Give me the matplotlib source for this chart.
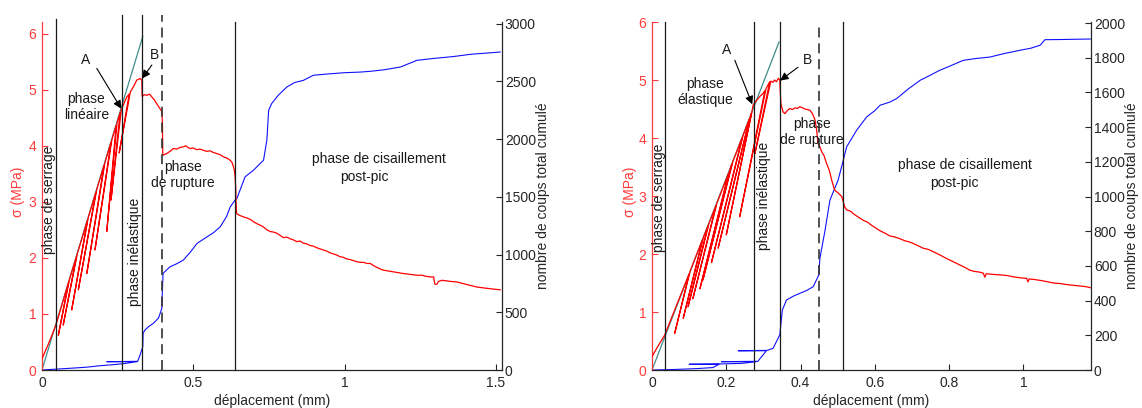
import matplotlib
matplotlib.use("Agg")
import matplotlib.pyplot as plt

plt.rcParams['font.family'] = ['Liberation Sans', 'DejaVu Sans']
plt.rcParams['font.size'] = 10

# ---------------- data: left test ----------------
left_sig_x = [0.0, 0.02, 0.046,
              0.088, 0.054, 0.091,
              0.114, 0.070, 0.117,
              0.150, 0.098, 0.153,
              0.178, 0.120, 0.181,
              0.205, 0.148, 0.208,
              0.228, 0.175, 0.231,
              0.245, 0.214, 0.248,
              0.258, 0.228, 0.262,
              0.280, 0.288, 0.255, 0.292,
              0.303, 0.313, 0.324, 0.330, 0.331, 0.338, 0.346, 0.355, 0.363, 0.371,
              0.379, 0.390, 0.396, 0.398, 0.399, 0.412, 0.423, 0.434, 0.445, 0.456,
              0.467, 0.475, 0.482, 0.489, 0.500, 0.511, 0.522, 0.533, 0.544, 0.555,
              0.566, 0.578, 0.589, 0.600, 0.611, 0.622, 0.628, 0.633, 0.636, 0.638,
              0.640, 0.641, 0.643, 0.652, 0.666, 0.678, 0.690, 0.700, 0.710, 0.722,
              0.732, 0.743, 0.754, 0.765, 0.776, 0.787, 0.798, 0.809, 0.820, 0.831,
              0.842, 0.853, 0.864, 0.875, 0.886, 0.897, 0.908, 0.919, 0.930, 0.941,
              0.952, 0.963, 0.974, 0.985, 0.996, 1.007, 1.018, 1.030, 1.041, 1.052,
              1.063, 1.074, 1.085, 1.096, 1.107, 1.118, 1.129, 1.140, 1.151, 1.162,
              1.173, 1.184, 1.195, 1.210, 1.225, 1.240, 1.255, 1.270, 1.285, 1.294,
              1.298, 1.305, 1.310, 1.322, 1.335, 1.350, 1.371, 1.385, 1.400, 1.415,
              1.437, 1.450, 1.465, 1.480, 1.497, 1.514]
left_sig_y = [0.20, 0.45, 0.80,
              1.57, 0.62, 1.62,
              2.03, 0.80, 2.08,
              2.67, 1.07, 2.72,
              3.17, 1.43, 3.22,
              3.65, 1.72, 3.70,
              4.06, 2.14, 4.11,
              4.36, 2.47, 4.41,
              4.59, 3.03, 4.64,
              4.87, 4.92, 3.87, 4.96,
              5.06, 5.17, 5.20, 5.17, 4.88, 4.91, 4.90, 4.92, 4.87, 4.82,
              4.75, 4.66, 4.61, 4.40, 3.83, 3.86, 3.90, 3.95, 3.94, 3.97,
              3.98, 4.00, 3.97, 3.95, 3.96, 3.93, 3.94, 3.92, 3.90, 3.91,
              3.88, 3.86, 3.84, 3.80, 3.78, 3.74, 3.70, 3.62, 3.55, 3.45,
              3.27, 3.03, 2.79, 2.76, 2.73, 2.71, 2.68, 2.64, 2.61, 2.58,
              2.55, 2.50, 2.47, 2.46, 2.44, 2.40, 2.36, 2.37, 2.34, 2.32,
              2.29, 2.30, 2.26, 2.25, 2.22, 2.21, 2.18, 2.16, 2.14, 2.12,
              2.09, 2.07, 2.05, 2.02, 2.01, 1.98, 1.97, 1.95, 1.93, 1.92,
              1.92, 1.90, 1.90, 1.86, 1.83, 1.80, 1.78, 1.77, 1.76, 1.75,
              1.74, 1.73, 1.72, 1.71, 1.70, 1.69, 1.69, 1.67, 1.66, 1.66,
              1.53, 1.53, 1.58, 1.60, 1.59, 1.58, 1.57, 1.55, 1.53, 1.51,
              1.48, 1.47, 1.46, 1.45, 1.44, 1.43]

left_cnt_x = [0, 0.05, 0.10, 0.15, 0.192, 0.23, 0.27, 0.313, 0.214, 0.316, 0.324,
              0.333, 0.334, 0.340, 0.352, 0.368, 0.385, 0.396, 0.398, 0.400, 0.423,
              0.445, 0.467, 0.490, 0.512, 0.545, 0.567, 0.589, 0.610, 0.622, 0.638,
              0.644, 0.671, 0.699, 0.732, 0.743, 0.749, 0.759, 0.781, 0.809, 0.835,
              0.864, 0.897, 0.950, 1.000, 1.050, 1.085, 1.130, 1.184, 1.239, 1.300,
              1.360, 1.415, 1.470, 1.514]
left_cnt_y = [0, 8, 16, 25, 37, 45, 55, 72, 72, 75, 130,
              202, 317, 345, 375, 404, 450, 534, 700, 837, 894,
              920, 952, 1020, 1096, 1153, 1190, 1240, 1330, 1413, 1471,
              1486, 1673, 1731, 1817, 1990, 2250, 2308, 2380, 2451, 2490,
              2509, 2553, 2565, 2575, 2580, 2587, 2600, 2624, 2682, 2700,
              2715, 2734, 2745, 2754]

left_tangent_x = [0.0, 0.333]
left_tangent_y = [0.0, 5.95]
left_phase_x = [0.046, 0.264, 0.330, 0.398, 0.639]
left_phase_top = [6.26, 6.33, 6.33, 6.33, 6.21]
left_phase_dashed = [False, False, False, True, False]

# ---------------- data: right test ----------------
right_sig_x = [0.0, 0.015, 0.034,
               0.100, 0.061, 0.103,
               0.136, 0.084, 0.139,
               0.151, 0.097, 0.154,
               0.172, 0.110, 0.175,
               0.206, 0.129, 0.209,
               0.215, 0.137, 0.218,
               0.243, 0.160, 0.246,
               0.262, 0.178, 0.265,
               0.268, 0.200, 0.270,
               0.272, 0.282, 0.291, 0.299, 0.304, 0.236, 0.307, 0.317, 0.277, 0.320,
               0.326, 0.330, 0.335, 0.340, 0.344, 0.345, 0.347, 0.349, 0.353, 0.358,
               0.364, 0.371, 0.378, 0.385, 0.392, 0.398, 0.405, 0.412, 0.418, 0.425,
               0.432, 0.439, 0.443, 0.447, 0.452, 0.457, 0.463, 0.470, 0.477, 0.484,
               0.488, 0.492, 0.500, 0.511, 0.515, 0.519, 0.524, 0.534, 0.545, 0.557,
               0.569, 0.580, 0.590, 0.602, 0.614, 0.627, 0.641, 0.650, 0.665, 0.680,
               0.692, 0.704, 0.717, 0.730, 0.744, 0.757, 0.770, 0.782, 0.794, 0.810,
               0.829, 0.842, 0.856, 0.868, 0.880, 0.892, 0.896, 0.900, 0.915, 0.937,
               0.955, 0.970, 0.990, 1.009, 1.012, 1.016, 1.030, 1.050, 1.066, 1.081,
               1.100, 1.120, 1.135, 1.150, 1.165, 1.180]
right_sig_y = [0.23, 0.40, 0.60,
               1.66, 0.63, 1.71,
               2.25, 0.89, 2.30,
               2.49, 1.09, 2.54,
               2.83, 1.23, 2.88,
               3.39, 1.40, 3.44,
               3.55, 1.55, 3.60,
               4.01, 1.85, 4.06,
               4.33, 2.10, 4.38,
               4.43, 2.33, 4.48,
               4.565, 4.65, 4.72, 4.77, 4.82, 2.64, 4.85, 4.97, 3.73, 4.98,
               4.96, 5.00, 4.97, 5.03, 5.00, 4.85, 4.60, 4.54, 4.45, 4.42,
               4.47, 4.51, 4.49, 4.52, 4.51, 4.54, 4.52, 4.50, 4.49, 4.48,
               4.42, 4.31, 4.15, 3.91, 3.85, 3.76, 3.70, 3.56, 3.45, 3.27,
               3.18, 3.10, 3.06, 2.99, 2.90, 2.81, 2.76, 2.74, 2.68, 2.63,
               2.58, 2.55, 2.50, 2.45, 2.40, 2.36, 2.31, 2.30, 2.27, 2.23,
               2.21, 2.18, 2.14, 2.10, 2.08, 2.04, 2.00, 1.96, 1.92, 1.87,
               1.81, 1.77, 1.72, 1.70, 1.69, 1.67, 1.60, 1.66, 1.65, 1.64,
               1.63, 1.61, 1.59, 1.58, 1.52, 1.57, 1.56, 1.54, 1.52, 1.50,
               1.49, 1.47, 1.46, 1.45, 1.44, 1.42]

right_cnt_x = [0, 0.06, 0.12, 0.164, 0.18, 0.10, 0.185, 0.24, 0.281, 0.187, 0.285,
               0.300, 0.308, 0.232, 0.310, 0.326, 0.344, 0.351, 0.362, 0.380, 0.398,
               0.416, 0.434, 0.449, 0.452, 0.466, 0.479, 0.501, 0.515, 0.524, 0.551,
               0.578, 0.600, 0.614, 0.641, 0.659, 0.690, 0.722, 0.750, 0.775, 0.800,
               0.838, 0.870, 0.910, 0.950, 0.991, 1.020, 1.045, 1.058, 1.100, 1.180]
right_cnt_y = [0, 3, 8, 14, 33, 33, 35, 38, 48, 48, 50,
               90, 111, 111, 113, 125, 202, 346, 403, 425, 442,
               458, 480, 547, 643, 806, 979, 1094, 1209, 1286, 1382,
               1459, 1495, 1526, 1545, 1565, 1620, 1670, 1700, 1728, 1750,
               1785, 1795, 1804, 1825, 1843, 1855, 1872, 1904, 1905, 1908]

right_tangent_x = [0.0, 0.342]
right_tangent_y = [0.0, 5.655]
right_phase_x = [0.034, 0.275, 0.344, 0.449, 0.515]
right_phase_top = [6.0, 6.0, 6.0, 6.0, 6.0]
right_phase_dashed = [False, False, False, True, False]

# ticks
left_xticks = [0, 0.5, 1, 1.5]
left_xticklabels = ['0', '0.5', '1', '1.5']
left_cnt_ticks = [0, 500, 1000, 1500, 2000, 2500, 3000]
right_xticks = [0, 0.2, 0.4, 0.6, 0.8, 1]
right_xticklabels = ['0', '0.2', '0.4', '0.6', '0.8', '1']
right_cnt_ticks = [0, 200, 400, 600, 800, 1000, 1200, 1400, 1600, 1800, 2000]
sig_ticks = [0, 1, 2, 3, 4, 5, 6]

RED = '#ff0000'
AXRED = '#ff3b3b'
BLUE = '#1010ff'
TEAL = '#3f8c8c'
DARK = '#262626'

W, H = 1142, 408
fig = plt.figure(figsize=(W / 100, H / 100), dpi=100)


def make_panel(px_left, px_right, xlim, ylim_s, ylim_c, xticks, xticklabels, cnt_ticks,
               sx, sy, cx, cy, tx, ty, vx, vtop, vdash):
    px_top, px_bot = 22, 370
    ax = fig.add_axes([px_left / W, 1 - px_bot / H, (px_right - px_left) / W, (px_bot - px_top) / H])
    ax2 = ax.twinx()
    ax.set_zorder(2)
    ax2.set_zorder(1)
    ax.patch.set_visible(False)

    ax.plot(tx, ty, color=TEAL, lw=0.9, zorder=2)
    ax.plot(sx, sy, color=RED, lw=0.9, zorder=3)
    for x, t, d in zip(vx, vtop, vdash):
        if d:
            ax.plot([x, x], [0, t], color='#333333', lw=1.2, ls=(0, (6, 3.5)), clip_on=False, zorder=4)
        else:
            ax.plot([x, x], [0, t], color='#1a1a1a', lw=0.9, clip_on=False, zorder=4)
    ax2.plot(cx, cy, color=BLUE, lw=0.8)

    ax.set_xlim(*xlim)
    ax.set_ylim(*ylim_s)
    ax2.set_ylim(*ylim_c)
    ax.set_xticks(xticks)
    ax.set_xticklabels(xticklabels)
    ax.set_yticks(sig_ticks)
    ax.set_yticklabels([str(v) for v in sig_ticks])
    ax2.set_yticks(cnt_ticks)
    ax2.set_yticklabels([str(v) for v in cnt_ticks])

    for a in (ax, ax2):
        a.spines['top'].set_visible(False)
    ax.spines['right'].set_visible(False)
    ax2.spines['left'].set_visible(False)
    ax2.spines['bottom'].set_visible(False)
    ax.spines['left'].set_color(AXRED)
    ax.spines['bottom'].set_color(DARK)
    ax2.spines['right'].set_color(DARK)
    for s in ('left', 'bottom'):
        ax.spines[s].set_linewidth(0.9)
    ax2.spines['right'].set_linewidth(0.9)

    ax.tick_params(axis='x', direction='in', length=4, width=0.8, colors=DARK, pad=4, labelsize=10)
    ax.tick_params(axis='y', direction='in', length=4, width=0.8, colors=AXRED, pad=4, labelsize=10)
    ax2.tick_params(axis='y', direction='in', length=4, width=0.8, colors=DARK, pad=2, labelsize=10)
    return ax, ax2


# ---------------- left panel ----------------
axL, axL2 = make_panel(42, 502, (0, 1.52), (0, 6.207), (0, 3014),
                       left_xticks, left_xticklabels, left_cnt_ticks,
                       left_sig_x, left_sig_y, left_cnt_x, left_cnt_y,
                       left_tangent_x, left_tangent_y,
                       left_phase_x, left_phase_top, left_phase_dashed)

kw = dict(fontsize=10, color='#1a1a1a', zorder=6)
axL.text(0.1455, 5.53, 'A', ha='center', va='center', **kw)
axL.annotate('', xy=(0.262, 4.66), xytext=(0.181, 5.38),
             arrowprops=dict(arrowstyle='-|>', color='black', lw=0.8, mutation_scale=12, shrinkA=0, shrinkB=0), zorder=6)
axL.text(0.372, 5.61, 'B', ha='center', va='center', **kw)
axL.annotate('', xy=(0.331, 5.20), xytext=(0.363, 5.44),
             arrowprops=dict(arrowstyle='-|>', color='black', lw=0.8, mutation_scale=12, shrinkA=0, shrinkB=0), zorder=6)
axL.text(0.1466, 4.69, 'phase\nlinéaire', ha='center', va='center', linespacing=1.15, **kw)
axL.text(0.023, 3.03, 'phase de serrage', rotation=90, ha='center', va='center', **kw)
axL.text(0.3075, 2.10, 'phase inélastique', rotation=90, ha='center', va='center', **kw)
axL.text(0.466, 3.48, 'phase\nde rupture', ha='center', va='center', linespacing=1.15, **kw)
axL.text(0.892, 3.76, 'phase de cisaillement', ha='left', va='center', **kw)
axL.text(0.985, 3.445, 'post-pic', ha='left', va='center', **kw)

# ---------------- right panel ----------------
axR, axR2 = make_panel(652, 1091, (0, 1.182), (0, 6.0), (0, 2006),
                       right_xticks, right_xticklabels, right_cnt_ticks,
                       right_sig_x, right_sig_y, right_cnt_x, right_cnt_y,
                       right_tangent_x, right_tangent_y,
                       right_phase_x, right_phase_top, right_phase_dashed)

axR.text(0.2005, 5.525, 'A', ha='center', va='center', **kw)
axR.annotate('', xy=(0.270, 4.58), xytext=(0.223, 5.34),
             arrowprops=dict(arrowstyle='-|>', color='black', lw=0.8, mutation_scale=12, shrinkA=0, shrinkB=0), zorder=6)
axR.text(0.418, 5.35, 'B', ha='center', va='center', **kw)
axR.annotate('', xy=(0.345, 4.99), xytext=(0.393, 5.22),
             arrowprops=dict(arrowstyle='-|>', color='black', lw=0.8, mutation_scale=12, shrinkA=0, shrinkB=0), zorder=6)
axR.text(0.143, 4.79, 'phase\nélastique', ha='center', va='center', linespacing=1.15, **kw)
axR.text(0.018, 2.97, 'phase de serrage', rotation=90, ha='center', va='center', **kw)
axR.text(0.301, 3.0, 'phase inélastique', rotation=90, ha='center', va='center', **kw)
axR.text(0.430, 4.10, 'phase\nde rupture', ha='center', va='center', linespacing=1.15, **kw)
axR.text(0.663, 3.53, 'phase de cisaillement', ha='left', va='center', **kw)
axR.text(0.748, 3.23, 'post-pic', ha='left', va='center', **kw)

# ---------------- axis labels ----------------
for cx_px, sig_px, cnt_px in ((272, 18, 543), (871, 630, 1132)):
    fig.text(cx_px / W, 1 - 401 / H, 'déplacement (mm)', ha='center', va='center', fontsize=10, color=DARK)
    fig.text(sig_px / W, 1 - 192 / H, 'σ (MPa)', rotation=90, ha='center', va='center', fontsize=10, color=AXRED)
    fig.text(cnt_px / W, 1 - 196 / H, 'nombre de coups total cumulé', rotation=90, ha='center', va='center',
             fontsize=10, color=DARK)

fig.savefig('out.png', dpi=100)
